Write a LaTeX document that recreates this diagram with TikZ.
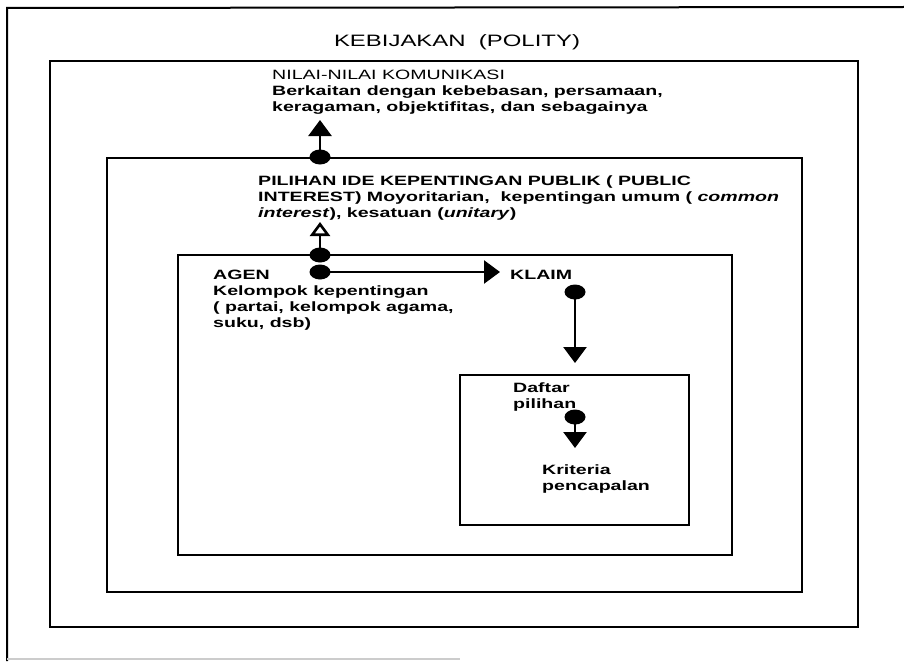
\documentclass[tikz,border=0pt]{standalone}
\usepackage{fontspec}
\setmainfont{Liberation Sans}[FakeStretch=1.45]
\usetikzlibrary{arrows.meta,positioning,shapes.geometric}

\begin{document}
\begin{tikzpicture}[x=1pt,y=-1pt,
    frame/.style={draw, line width=2.6pt},
    dot/.style={ellipse, fill, inner sep=0pt, minimum width=21pt, minimum height=15pt},
    txt/.style={font=\bfseries\fontsize{13.5}{16}\selectfont, align=left, inner sep=0pt, anchor=north west},
    arr/.style={line width=2.6pt, -{Triangle[width=23pt,length=16pt]}},
    arropen/.style={line width=2.6pt, -{Triangle[open,width=20pt,length=14pt,line width=2.6pt]}}]
    \useasboundingbox (0,0) rectangle (904,661);
    % bingkai luar
    \draw[line width=2pt] (7,661) -- (7,8) -- (904,7);
    \draw[gray!40, line width=1.5pt] (7,659) -- (460,659);
    \node[font=\fontsize{16.5}{19}\selectfont, inner sep=0pt] (polity) at (457,42) {KEBIJAKAN\ \ (POLITY)};

    % kotak-kotak bertingkat
    \draw[frame] (50,61) rectangle (858,627);
    \draw[frame] (107,158) rectangle (802,592);
    \draw[frame] (178,255) rectangle (732,555);
    \draw[frame] (460,375) rectangle (689,525);

    % teks
    \node[txt] (nilai) at (272,70) {\mdseries NILAI-NILAI KOMUNIKASI\\
        Berkaitan dengan kebebasan, persamaan,\\
        keragaman, objektifitas, dan sebagainya};
    \node[txt] (pilihan) at (258,176) {PILIHAN IDE KEPENTINGAN PUBLIK ( PUBLIC\\
        INTEREST) Moyoritarian,\ \ kepentingan umum ( \textit{common}\\
        \textit{interest}), kesatuan (\textit{unitary})};
    \node[txt] (agen) at (213,270) {AGEN\\ Kelompok kepentingan\\
        ( partai, kelompok agama,\\ suku, dsb)};
    \node[txt] (klaim) at (510,270) {KLAIM};
    \node[txt] (daftar) at (513,383) {Daftar\\ pilihan};
    \node[txt] (kriteria) at (542,465) {Kriteria\\ pencapalan};

    % titik dan panah
    \node[dot] (d1) at (320,157) {};
    \node[dot] (d2) at (320,255) {};
    \node[dot] (d3) at (320,272) {};
    \node[dot] (d4) at (575,292) {};
    \node[dot] (d5) at (575,417) {};
    \coordinate (t1) at (320,120);
    \coordinate (t2) at (320,222);
    \coordinate (t3) at (500,272);
    \coordinate (t4) at (575,363);
    \coordinate (t5) at (575,448);
    \draw[arr] (d1.center) -- (t1);
    \draw[arropen] (d2.center) -- (t2);
    \draw[arr] (d3.center) -- (t3);
    \draw[arr] (d4.center) -- (t4);
    \draw[arr] (d5.center) -- (t5);
\end{tikzpicture}
\end{document}
